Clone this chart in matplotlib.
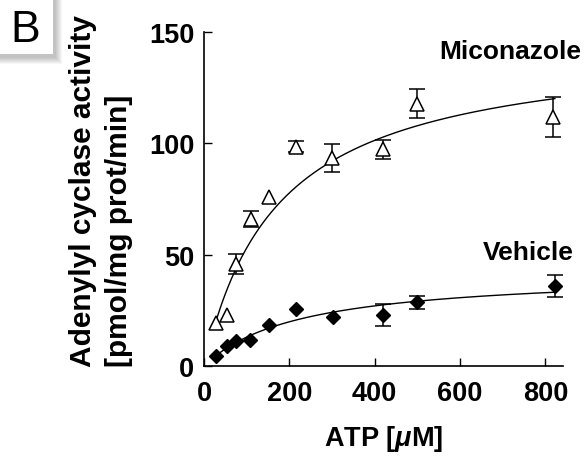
import matplotlib
matplotlib.use("Agg")
from matplotlib import pyplot as plt
from matplotlib.patches import Rectangle
import numpy as np

# ATP concentrations [uM] and activities
atp_mic = [28, 54, 74, 110, 153, 216, 301, 419, 500, 818]
act_mic = [19.5, 23, 46, 66, 76, 98.5, 93.5, 97.4, 117.8, 111.8]
err_mic = [0, 0, 4.5, 3.5, 0, 2.5, 6.3, 4.3, 6.6, 9.1]

atp_veh = [28, 53, 74, 108, 152, 216, 302, 420, 500, 822]
act_veh = [4.3, 8.8, 11.1, 11.8, 18.5, 25.6, 21.8, 22.8, 28.6, 36.0]
err_veh = [0, 0, 0, 0, 0, 0, 0, 5.0, 3.0, 4.9]

# Michaelis-Menten fits (Vmax, Km)
fit_mic = (145.6, 174.6)
fit_veh = (42.2, 225.0)

xticks = [0, 200, 400, 600, 800]
yticks = [0, 50, 100, 150]

W, H = 588, 460
def fx(px):
    return px / W
def fy(py):
    return 1 - py / H

plt.rcParams['font.family'] = ['Liberation Sans', 'DejaVu Sans']
plt.rcParams['mathtext.fontset'] = 'custom'
plt.rcParams['mathtext.rm'] = 'Liberation Sans:bold'
plt.rcParams['mathtext.it'] = 'Liberation Sans:bold:italic'

fig = plt.figure(figsize=(5.88, 4.60), dpi=100)
ax = fig.add_axes([fx(204), fy(367), fx(563) - fx(204), fy(33) - fy(367)])

def mm(x, p):
    return p[0] * x / (p[1] + x)

xs = np.linspace(atp_mic[0] - 3, 822, 400)
ax.plot(xs, mm(xs, fit_mic), color='black', lw=1.0, zorder=1)
xs = np.linspace(atp_veh[0] - 3, 822, 400)
ax.plot(xs, mm(xs, fit_veh), color='black', lw=1.0, zorder=1)

def bars(x, y, e):
    keep = [i for i in range(len(e)) if e[i] > 0]
    ax.errorbar([x[i] for i in keep], [y[i] for i in keep], yerr=[e[i] for i in keep],
                fmt='none', ecolor='black', elinewidth=1.1, capsize=6, capthick=1.1, zorder=2)

bars(atp_mic, act_mic, err_mic)
bars(atp_veh, act_veh, err_veh)
ax.plot(atp_mic, act_mic, '^', ms=10.5, mfc='white', mec='black', mew=1.1, zorder=3)
ax.plot(atp_veh, act_veh, 'D', ms=7.5, mfc='black', mec='black', zorder=3)

ax.set_xlim(0, 841)
ax.set_ylim(0, 150)
ax.set_xticks(xticks)
ax.set_yticks(yticks)
for s in ['top', 'right']:
    ax.spines[s].set_visible(False)
for s in ['left', 'bottom']:
    ax.spines[s].set_linewidth(1.2)
ax.tick_params(axis='both', direction='in', length=6, width=1.0, labelsize=19.5)
ax.tick_params(axis='y', pad=7)
ax.tick_params(axis='x', pad=10)
for lab in ax.get_xticklabels() + ax.get_yticklabels():
    lab.set_fontweight('bold')

ax.set_xlabel(r'ATP [$\mu$M]', fontsize=19.5, fontweight='bold', labelpad=12)

# y label as two lines, both flush with the bottom
fig.text(fx(83), fy(367), 'Adenylyl cyclase activity', rotation=90, ha='center',
         va='bottom', fontsize=21.5, fontweight='bold')
fig.text(fx(119), fy(367), '[pmol/mg prot/min]', rotation=90, ha='center',
         va='bottom', fontsize=21.5, fontweight='bold')

fig.text(fx(581), fy(52), 'Miconazole', ha='right', va='center', fontsize=19, fontweight='bold')
fig.text(fx(574), fy(253), 'Vehicle', ha='right', va='center', fontsize=19, fontweight='bold')

# panel letter box with soft shadow
for i in range(7, 0, -1):
    fig.add_artist(Rectangle((fx(0), fy(55 + 3 + i)), fx(53 + 2 + i), fy(0) - fy(55 + 3 + i),
                             transform=fig.transFigure, facecolor='black', edgecolor='none',
                             alpha=0.035, zorder=5))
fig.add_artist(Rectangle((fx(0), fy(55)), fx(53), fy(0) - fy(55), transform=fig.transFigure,
                         facecolor='white', edgecolor='none', zorder=6))
fig.text(fx(25), fy(30), 'B', ha='center', va='center', fontsize=32, zorder=7)

fig.savefig('out.png', dpi=100)
